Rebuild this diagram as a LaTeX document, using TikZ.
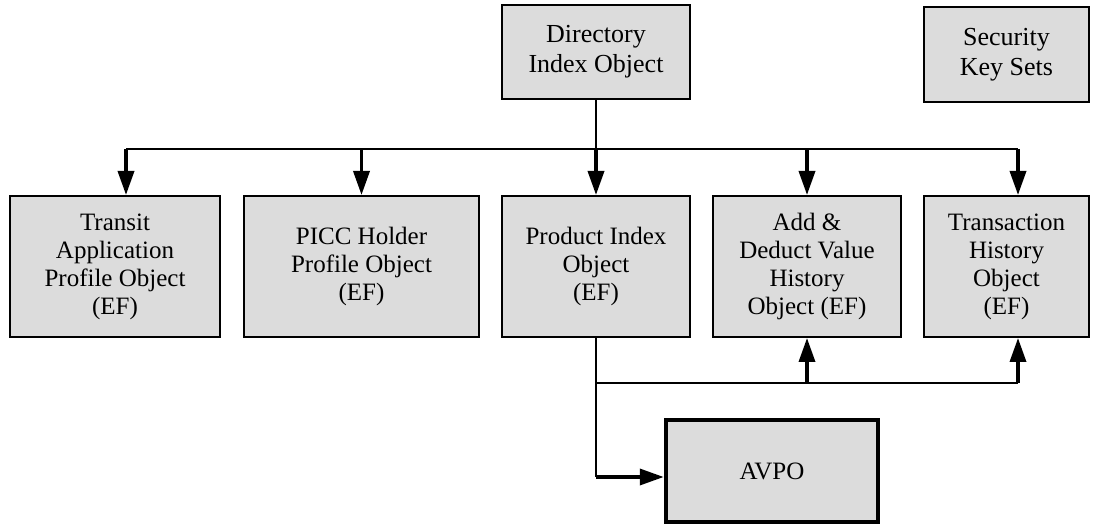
\documentclass[tikz,border=0pt]{standalone}
\usepackage{fontspec}
\setmainfont{Liberation Serif}
\usetikzlibrary{arrows.meta}
\definecolor{boxgray}{HTML}{DCDCDC}

\begin{document}
\begin{tikzpicture}[x=1pt,y=-1pt,
  obj/.style={draw,line width=2pt,fill=boxgray,align=center,inner sep=0pt,
    minimum height=141pt,font=\fontsize{25}{28}\selectfont},
  top/.style={obj,minimum height=94pt,font=\fontsize{26}{30}\selectfont},
  link/.style={line width=1.5pt},
  arr/.style={line width=3.5pt,-{Triangle[length=24pt,width=16pt]}}]
  \useasboundingbox (0,0) rectangle (1104,526);
  \node[top,minimum width=188pt] (dir) at (596,52) {Directory\\Index Object};
  \node[top,minimum width=165pt,minimum height=95pt] (sec) at (1006.5,54.5) {Security\\Key Sets};
  \node[obj,minimum width=210pt] (obj-1) at (115,266.5) {Transit\\Application\\Profile Object\\(EF)};
  \node[obj,minimum width=235pt] (obj-2) at (361.5,266.5) {PICC Holder\\Profile Object\\(EF)};
  \node[obj,minimum width=188pt] (obj-3) at (596,266.5) {Product Index\\Object\\(EF)};
  \node[obj,minimum width=188pt] (obj-4) at (807,266.5) {Add \&\\Deduct Value\\History\\Object (EF)};
  \node[obj,minimum width=165pt] (obj-5) at (1006.5,266.5) {Transaction\\History\\Object\\(EF)};
  \node[obj,line width=4.5pt,minimum width=212pt,minimum height=102pt] (avpo) at (772,471) {AVPO};
  % upper bus
  \coordinate (b-1) at (126,149);
  \coordinate (b-5) at (1018,149);
  \draw[link] (dir.south) -- (dir.south |- b-1);
  \draw[link] (b-1) -- (b-5);
  \draw[arr] (b-1) -- (b-1 |- obj-1.north);
  \draw[arr] (obj-2.north |- b-1) -- (obj-2.north);
  \draw[arr] (obj-3.north |- b-1) -- (obj-3.north);
  \draw[arr] (obj-4.north |- b-1) -- (obj-4.north);
  \draw[arr] (b-5) -- (b-5 |- obj-5.north);
  % lower bus
  \coordinate (c-0) at (596,477);
  \coordinate (c-5) at (1018,383);
  \draw[link] (obj-3.south) -- (c-0);
  \draw[arr] (c-0) -- (c-0 -| avpo.west);
  \draw[link] (obj-3.south |- c-5) -- (c-5);
  \draw[arr] (obj-4.south |- c-5) -- (obj-4.south);
  \draw[arr] (c-5) -- (c-5 |- obj-5.south);
\end{tikzpicture}
\end{document}
